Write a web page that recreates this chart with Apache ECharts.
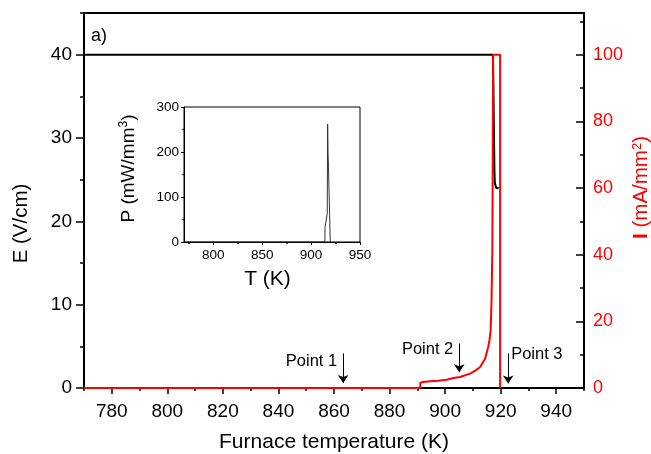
<!DOCTYPE html>
<html><head><meta charset="utf-8">
<script src="https://cdn.jsdelivr.net/npm/echarts@6/dist/echarts.min.js"></script>
<style>html,body{margin:0;padding:0;background:#fff}#c{width:651px;height:454px}</style>
</head><body><div id="c"></div>
<script>
// ---- data ----
const tempE  = [770, 800, 850, 900, 917.2, 917.4, 917.6, 917.75, 917.9, 918.4, 919.0, 919.3];
const fieldE = [40, 40, 40, 40, 40, 36, 30, 26, 24.6, 24, 23.8, 24];

const tempI = [770, 891.0, 891.1, 892.1, 894.6, 897.5, 900.6, 903, 905.4, 909.0, 911, 912.6, 914.4, 915.5, 916.0, 916.4, 916.7, 917.0, 917.1, 917.2, 917.3, 919.8, 919.8];
const currI = [0, 0, 1.6, 1.8, 2.0, 2.2, 2.5, 3.0, 3.3, 4.3, 5.3, 6.3, 8.8, 12.3, 14.5, 17.3, 26, 41, 60, 80, 100, 100, 0];

const tempP  = [770, 914.1, 914.2, 915.5, 916.5, 916.9, 917.3, 917.8, 919.5, 919.6];
const powerP = [0, 0, 32, 36, 63, 262, 200, 165, 163, 0];

const xMajor = [780, 800, 820, 840, 860, 880, 900, 920, 940];
const xMinor = [770, 790, 810, 830, 850, 870, 890, 910, 930, 950];
const eMajor = [0, 10, 20, 30, 40];
const eMinor = [5, 15, 25, 35, 45];
const iMajor = [0, 20, 40, 60, 80, 100];
const iMinor = [10, 30, 50, 70, 90, 110];
const insetXMajor = [800, 850, 900, 950];
const insetXMinor = [775, 825, 875, 925];

const pointNames = ['Point 1', 'Point 2', 'Point 3'];
const pointT     = [863.3, 905.1, 922.7];
const arrowTopE  = [4.15, 5.35, 4.15];
const arrowTipE  = [0.6, 1.9, 0.55];
const labelE     = [3.2, 4.66, 4.06];

// ---- chart ----
const FF = 'Liberation Sans, Arial, sans-serif';
const zip = (a, b) => a.map((v, i) => [v, b[i]]);
const chart = echarts.init(document.getElementById('c'), null, {renderer: 'canvas'});

function minorAxis(base, values, len, inside) {
  return Object.assign({}, base, {
    axisLine: {show: false},
    axisLabel: {show: false},
    splitLine: {show: false},
    axisTick: {show: true, inside: !!inside, length: len, customValues: values, lineStyle: {color: '#000', width: 1.5}},
    name: ''
  });
}

const xMainBase = {type: 'value', gridIndex: 0, min: 770, max: 950, position: 'bottom'};
const xTopBase  = {type: 'value', gridIndex: 0, min: 770, max: 950, position: 'top'};
const eBase = {type: 'value', gridIndex: 0, min: 0, max: 45, position: 'left'};
const iBase = {type: 'value', gridIndex: 0, min: 0, max: 112.5, position: 'right'};
const inXBase = {type: 'value', gridIndex: 1, min: 770, max: 950, position: 'bottom'};

chart.setOption({
  animation: false,
  backgroundColor: '#fff',
  grid: [
    {left: 84, right: 67, top: 13, bottom: 66, show: true, borderColor: '#000', borderWidth: 2, backgroundColor: 'transparent', containLabel: false, outerBoundsMode: 'none'},
    {left: 184, right: 291, top: 107, bottom: 212, show: true, borderColor: '#000', borderWidth: 1, backgroundColor: 'transparent', containLabel: false, outerBoundsMode: 'none'}
  ],
  xAxis: [
    Object.assign({}, xMainBase, {
      name: 'Furnace temperature (K)', nameLocation: 'middle', nameGap: 44, nameMoveOverlap: false,
      nameTextStyle: {fontFamily: FF, fontSize: 21, color: '#000'},
      axisLine: {show: true, lineStyle: {color: '#000', width: 2}},
      axisTick: {show: true, length: 5, customValues: xMajor, lineStyle: {color: '#000', width: 1.5}},
      axisLabel: {customValues: xMajor, margin: 14, fontFamily: FF, fontSize: 19, color: '#000'},
      splitLine: {show: false}
    }),
    minorAxis(xMainBase, xMinor, 3, false),
    Object.assign({}, xTopBase, {
      axisLine: {show: true, lineStyle: {color: '#000', width: 2}},
      axisTick: {show: true, inside: true, length: 6, customValues: xMajor, lineStyle: {color: '#000', width: 1.5}},
      axisLabel: {show: false}, splitLine: {show: false}
    }),
    minorAxis(xTopBase, xMinor, 3, true),
    Object.assign({}, inXBase, {
      name: 'T (K)', nameLocation: 'middle', nameGap: 27, nameMoveOverlap: false,
      nameTextStyle: {fontFamily: FF, fontSize: 21, color: '#000', padding: [0, 9, 0, 0]},
      axisLine: {show: true, lineStyle: {color: '#000', width: 1}},
      axisTick: {show: true, length: 3, customValues: insetXMajor, lineStyle: {color: '#000', width: 1}},
      axisLabel: {customValues: insetXMajor, margin: 6, fontFamily: FF, fontSize: 13.5, color: '#000'},
      splitLine: {show: false}
    }),
    Object.assign(minorAxis(inXBase, insetXMinor, 2, false), {})
  ],
  yAxis: [
    Object.assign({}, eBase, {
      name: 'E (V/cm)', nameLocation: 'middle', nameGap: 52, nameRotate: 90, nameMoveOverlap: false,
      nameTextStyle: {fontFamily: FF, fontSize: 20.5, color: '#000', padding: [0, 46, 0, 0]},
      axisLine: {show: true, lineStyle: {color: '#000', width: 2}},
      axisTick: {show: true, length: 8, customValues: eMajor, lineStyle: {color: '#000', width: 1.5}},
      axisLabel: {customValues: eMajor, margin: 12, fontFamily: FF, fontSize: 19, color: '#000'},
      splitLine: {show: false}
    }),
    Object.assign({}, iBase, {
      name: '{b|I} (mA/mm{s|2})', nameLocation: 'middle', nameGap: 47, nameRotate: 90, nameMoveOverlap: false,
      nameTextStyle: {fontFamily: FF, fontSize: 20.5, color: '#ff0000', padding: [0, 0, 0, 26],
        rich: {
          b: {fontFamily: FF, fontSize: 21, fontWeight: 'bold', color: '#ff0000'},
          s: {fontFamily: FF, fontSize: 13, color: '#ff0000', verticalAlign: 'top', padding: [0, 0, 8, 0]}
        }},
      axisLine: {show: true, lineStyle: {color: '#000', width: 2}},
      axisTick: {show: true, inside: true, length: 8, customValues: iMajor, lineStyle: {color: '#000', width: 1.5}},
      axisLabel: {customValues: iMajor, margin: 9, fontFamily: FF, fontSize: 18, color: '#ff0000'},
      splitLine: {show: false}
    }),
    minorAxis(eBase, eMinor, 4, false),
    minorAxis(iBase, iMinor, 4, true),
    {
      type: 'value', gridIndex: 1, min: 0, max: 300, interval: 100, position: 'left',
      name: 'P (mW/mm{s|3})', nameLocation: 'middle', nameGap: 45, nameRotate: 90, nameMoveOverlap: false,
      nameTextStyle: {fontFamily: FF, fontSize: 19, color: '#000', padding: [0, 0, 0, 12],
        rich: {s: {fontFamily: FF, fontSize: 12, color: '#000', verticalAlign: 'top', padding: [0, 0, 9, 0]}}},
      axisLine: {show: true, lineStyle: {color: '#000', width: 1}},
      axisTick: {show: true, length: 3, lineStyle: {color: '#000', width: 1}},
      minorTick: {show: true, splitNumber: 2, length: 2, lineStyle: {color: '#000', width: 1}},
      axisLabel: {margin: 5, fontFamily: FF, fontSize: 13.5, color: '#000'},
      splitLine: {show: false}
    }
  ],
  graphic: [
    {type: 'text', left: 91, top: 27, style: {text: 'a)', font: '18px Liberation Sans', fill: '#000'}}
  ],
  series: [
    {
      name: 'E', type: 'line', xAxisIndex: 0, yAxisIndex: 0,
      data: zip(tempE, fieldE), showSymbol: false, symbol: 'none',
      lineStyle: {color: '#000', width: 2}, z: 3,
      markLine: {
        silent: true, symbol: ['none', 'arrow'], symbolSize: 8,
        lineStyle: {color: '#000', width: 1, type: 'solid'},
        label: {show: false},
        data: pointT.map((t, i) => [{coord: [t, arrowTopE[i]]}, {coord: [t, arrowTipE[i]]}])
      },
      markPoint: {
        silent: true, symbol: 'circle', symbolSize: 0,
        itemStyle: {color: 'transparent'},
        label: {show: true, formatter: '{b}', fontFamily: FF, fontSize: 16.5, color: '#000'},
        data: pointT.map((t, i) => ({
          name: pointNames[i], coord: [t, labelE[i]],
          label: {position: i < 2 ? 'left' : 'right', distance: i < 2 ? 6 : 3}
        }))
      }
    },
    {
      name: 'I', type: 'line', xAxisIndex: 0, yAxisIndex: 1,
      data: zip(tempI, currI), showSymbol: false, symbol: 'none',
      lineStyle: {color: '#ff0000', width: 2}, z: 4
    },
    {
      name: 'P', type: 'line', xAxisIndex: 4, yAxisIndex: 4,
      data: zip(tempP, powerP), showSymbol: false, symbol: 'none',
      lineStyle: {color: '#333', width: 1}
    }
  ]
});
</script></body></html>
